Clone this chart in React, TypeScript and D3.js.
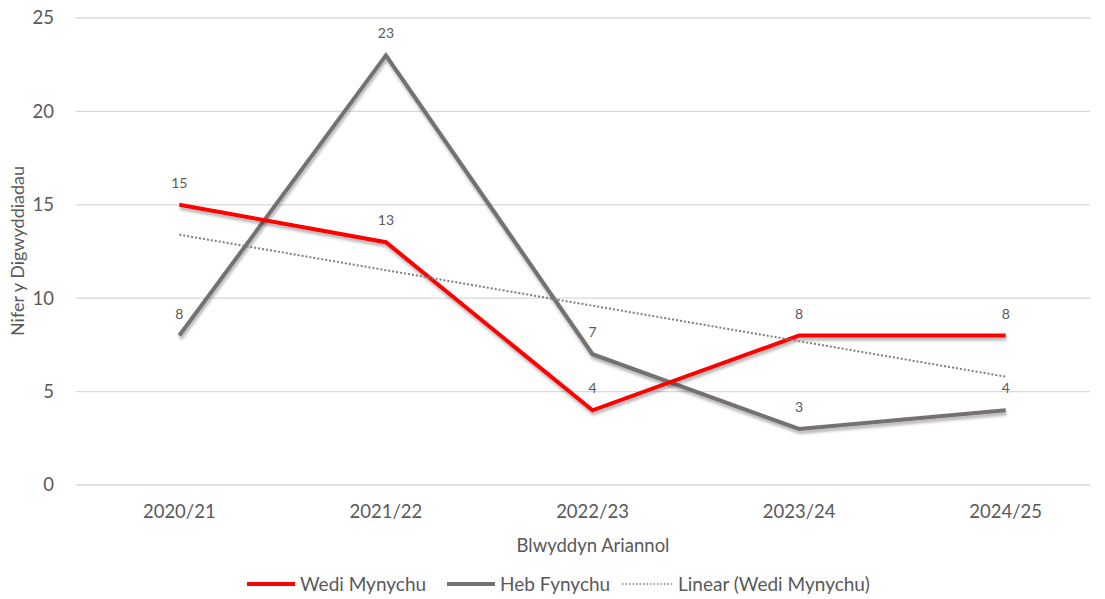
import React from "react";
import * as d3 from "d3";

const years = ["2020/21", "2021/22", "2022/23", "2023/24", "2024/25"];
const wediMynychu = [15, 13, 4, 8, 8];
const hebFynychu = [8, 23, 7, 3, 4];
const yTicks = [0, 5, 10, 15, 20, 25];

const W = 1105;
const H = 599;
const FONT = "Lato, 'Liberation Sans', sans-serif";
const TXT = "#595959";

// least squares fit, like Excel's linear trendline
function linearFit(vals: number[]) {
  const xs = vals.map((_, i) => i + 1);
  const mx = d3.mean(xs)!;
  const my = d3.mean(vals)!;
  const slope = d3.sum(xs, (x, i) => (x - mx) * (vals[i] - my)) / d3.sum(xs, x => (x - mx) ** 2);
  return xs.map(x => my + slope * (x - mx));
}

export default function App() {
  const x = d3.scaleBand().domain(years).range([76, 1109]);
  const cx = (d: string) => x(d)! + x.bandwidth() / 2;
  const y = d3.scaleLinear().domain([0, 25]).range([485, 18]);

  const line = d3.line<number>()
    .x((_, i) => cx(years[i]))
    .y(d => y(d));

  const trend = linearFit(wediMynychu);

  const series = [
    { name: "Heb Fynychu", vals: hebFynychu, color: "#767171" },
    { name: "Wedi Mynychu", vals: wediMynychu, color: "#ff0000" },
  ];

  return (
    <svg width={W} height={H} style={{ position: "absolute", left: 0, top: 0, background: "#fff" }}>
      <defs>
        <filter id="shadow" x="-10%" y="-10%" width="120%" height="130%">
          <feDropShadow dx="1" dy="3" stdDeviation="1.5" floodColor="#000" floodOpacity="0.3" />
        </filter>
      </defs>

      {/* gridlines and y ticks */}
      {yTicks.map(t => (
        <g key={t}>
          <line x1={76} x2={1090} y1={y(t)} y2={y(t)} stroke="#d9d9d9" strokeWidth={1.3} />
          <text x={54} y={y(t)} dy="0.35em" textAnchor="end" fontSize={18.5} fill={TXT} fontFamily={FONT}>{t}</text>
        </g>
      ))}

      {/* x ticks */}
      {years.map(yr => (
        <text key={yr} x={cx(yr)} y={518} textAnchor="middle" fontSize={18.5} fill={TXT} fontFamily={FONT}>{yr}</text>
      ))}

      {/* axis titles */}
      <text x={593} y={552} textAnchor="middle" fontSize={18.5} fill={TXT} fontFamily={FONT}>Blwyddyn Ariannol</text>
      <text transform="translate(24,251) rotate(-90)" textAnchor="middle" fontSize={18} fill={TXT} fontFamily={FONT}>Nifer y Digwyddiadau</text>

      {/* series lines */}
      {series.map(s => (
        <path key={s.name} d={line(s.vals)!} fill="none" stroke={s.color} strokeWidth={4}
          strokeLinejoin="miter" filter="url(#shadow)" />
      ))}

      {/* trendline */}
      <path d={line(trend)!} fill="none" stroke="#7f7f7f" strokeWidth={2} strokeDasharray="2 2" />

      {/* data labels */}
      {series.map(s => s.vals.map((v, i) => (
        <text key={s.name + i} x={cx(years[i])} y={y(v) - 17} textAnchor="middle" fontSize={14} fill={TXT} fontFamily={FONT}>{v}</text>
      )))}

      {/* legend */}
      <g fontFamily={FONT} fontSize={19} fill={TXT}>
        <line x1={247} x2={295} y1={584} y2={584} stroke="#ff0000" strokeWidth={4} />
        <text x={300} y={584} dy="0.35em">Wedi Mynychu</text>
        <line x1={447} x2={495} y1={584} y2={584} stroke="#767171" strokeWidth={4} />
        <text x={500} y={584} dy="0.35em">Heb Fynychu</text>
        <line x1={622} x2={672} y1={584} y2={584} stroke="#7f7f7f" strokeWidth={1.5} strokeDasharray="1.5 2" />
        <text x={678} y={584} dy="0.35em">Linear (Wedi Mynychu)</text>
      </g>
    </svg>
  );
}
